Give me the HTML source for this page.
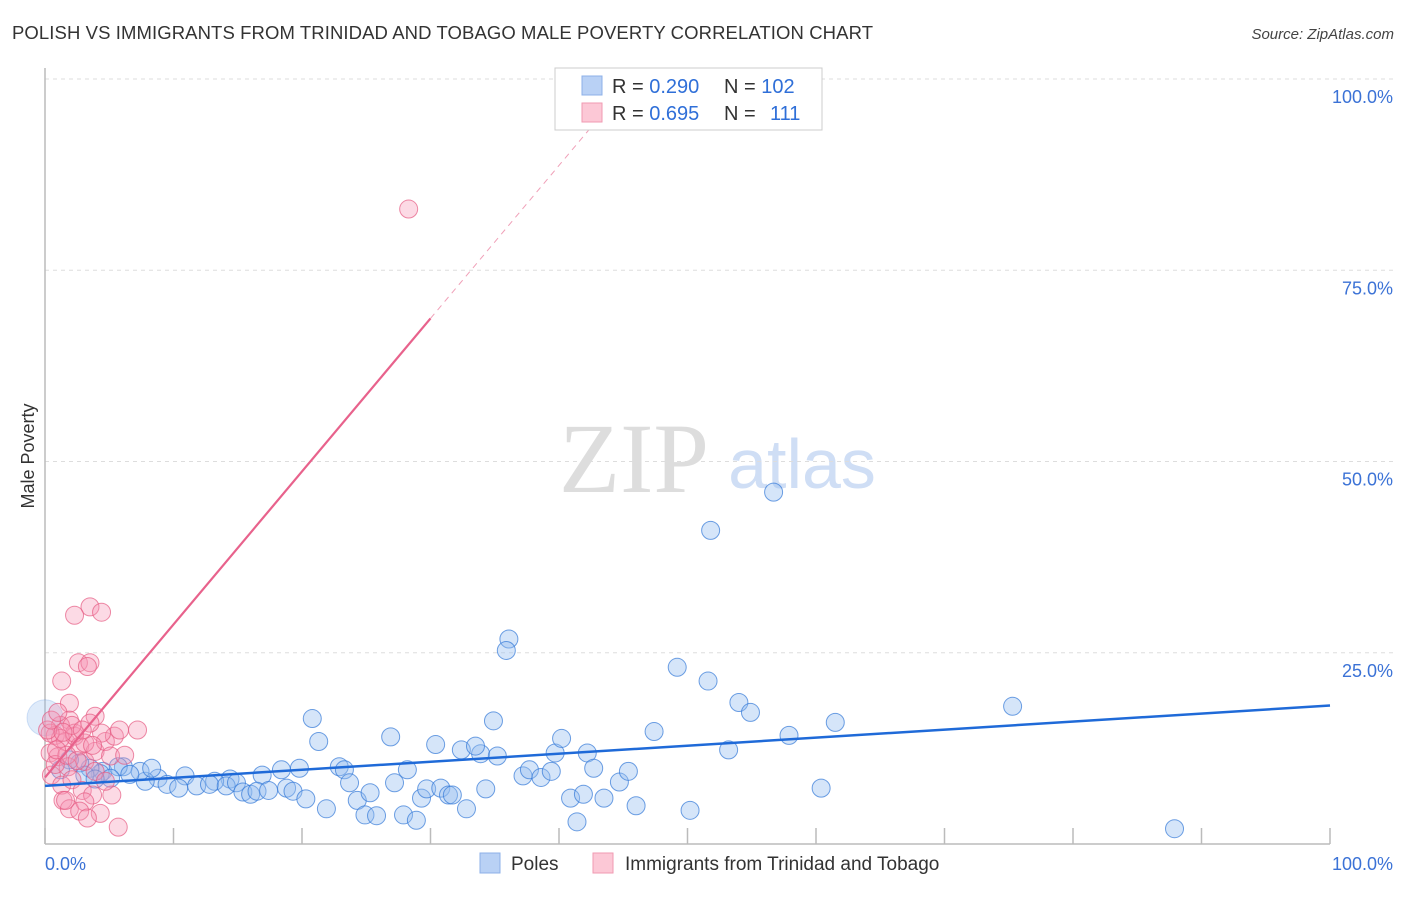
<!DOCTYPE html>
<html><head><meta charset="utf-8"><style>
body{margin:0;background:#fff;font-family:"Liberation Sans",sans-serif;}
</style></head><body>
<svg id="chart" width="1406" height="892" xmlns="http://www.w3.org/2000/svg" font-family="Liberation Sans, sans-serif">
<text x="12" y="39" font-size="18.5" fill="#333" textLength="861">POLISH VS IMMIGRANTS FROM TRINIDAD AND TOBAGO MALE POVERTY CORRELATION CHART</text>
<text x="1394" y="39" font-size="15" fill="#444" font-style="italic" text-anchor="end">Source: ZipAtlas.com</text>
<text transform="translate(34,456) rotate(-90)" font-size="18" fill="#333" text-anchor="middle">Male Poverty</text>
<g>
<text x="634" y="492" font-size="100" fill="#ddd" style="font-family:'Liberation Serif',serif" text-anchor="middle">ZIP</text>
<text x="802" y="488" font-size="70" fill="#cfdef5" text-anchor="middle">atlas</text>
</g>
<g id="grid"></g><g id="ticks"></g><g id="pts"></g><g id="lines"></g>
<g>
<rect x="555" y="68" width="267" height="62" fill="#fff" stroke="#ccc"/>
<rect x="582" y="76" width="20" height="19" fill="#b9d1f5" stroke="#8db0e8"/>
<rect x="582" y="103" width="20" height="19" fill="#fcc8d6" stroke="#f09ab2"/>
<text x="612" y="93" font-size="20" fill="#333">R = <tspan fill="#2f6fd8">0.290</tspan><tspan x="724">N = </tspan><tspan fill="#2f6fd8">102</tspan></text>
<text x="612" y="120" font-size="20" fill="#333">R = <tspan fill="#2f6fd8">0.695</tspan><tspan x="724">N = </tspan><tspan fill="#2f6fd8" x="770">111</tspan></text>
</g>
<g>
<rect x="480" y="853" width="20" height="20" fill="#b9d1f5" stroke="#8db0e8"/>
<text x="511" y="870" font-size="19" fill="#333">Poles</text>
<rect x="593" y="853" width="20" height="20" fill="#fcc8d6" stroke="#f09ab2"/>
<text x="625" y="870" font-size="19" fill="#333">Immigrants from Trinidad and Tobago</text>
</g>
</svg>
<script>
const yTicks=[25,50,75,100];
const yTickLabels=["25.0%","50.0%","75.0%","100.0%"];
const xTickValues=[0,10,20,30,40,50,60,70,80,90,100];
const xTickLabels=["0.0%","100.0%"];
const polesX=[56.7,51.8,36.1,35.9,49.2,51.6,54.0,54.9,75.3,61.5,47.4,57.9,20.8,34.9,21.3,26.9,30.4,32.4,33.9,33.5,35.2,39.7,40.2,42.2,42.7,28.2,22.9,23.3,19.8,18.4,16.9,14.4,13.2,10.9,8.8,7.8,6.1,7.4,4.5,5.7,8.3,9.5,10.4,11.8,12.8,14.1,14.9,15.4,16.0,16.5,17.4,18.8,19.3,20.3,21.9,23.7,24.3,24.9,25.3,25.8,27.2,27.9,28.9,29.3,29.7,30.8,31.4,31.7,32.8,34.3,37.2,37.7,38.6,39.4,40.9,41.4,41.9,43.5,44.7,45.4,46.0,50.2,53.2,60.4,87.9,4.3,3.5,2.7,1.9,3.1,5.1,1.2,6.6,3.9,0.0];
const polesY=[46.0,41.0,26.8,25.3,23.1,21.3,18.5,17.2,18.0,15.9,14.7,14.2,16.4,16.1,13.4,14.0,13.0,12.3,11.8,12.8,11.5,11.9,13.8,11.9,9.9,9.7,10.1,9.7,9.9,9.7,9.0,8.5,8.2,8.9,8.6,8.2,10.1,9.5,9.5,10.1,9.9,7.8,7.3,7.6,7.8,7.6,8.0,6.8,6.5,6.9,7.0,7.3,6.9,5.9,4.6,8.0,5.7,3.8,6.7,3.7,8.0,3.8,3.1,6.0,7.2,7.3,6.4,6.4,4.6,7.2,8.9,9.7,8.7,9.5,6.0,2.9,6.5,6.0,8.1,9.5,5.0,4.4,12.3,7.3,2.0,9.2,9.9,10.6,11.0,9.0,8.6,9.7,9.1,8.5,16.5];
const trinX=[28.3,3.5,4.4,2.3,2.6,3.5,3.3,1.3,1.9,3.9,7.2,1.9,1.2,0.8,1.6,2.3,2.7,0.4,1.0,1.8,3.1,3.9,4.7,5.4,5.1,4.4,3.5,0.5,1.3,2.1,2.9,3.7,1.4,1.9,3.1,5.2,2.7,4.3,3.3,5.7,1.6,1.2,0.4,0.8,0.2,2.3,3.1,3.9,4.7,1.7,2.5,0.9,5.8,6.2,0.5,1.0,2.1,1.4,3.7,2.9];
const trinY=[83.0,31.0,30.3,29.9,23.7,23.7,23.2,21.3,18.4,16.7,14.9,16.2,15.5,14.2,13.4,14.1,12.8,11.9,11.4,10.1,10.8,12.1,13.4,14.1,11.5,14.5,15.8,9.0,7.7,8.4,7.0,6.4,5.7,4.6,5.5,6.4,4.3,4.0,3.4,2.2,5.7,13.8,14.5,10.4,14.9,14.5,13.2,9.5,8.2,11.6,10.9,12.3,14.9,11.6,16.2,17.2,15.5,14.6,12.9,14.9];
const polesFit=[7.6,18.1];
const trinFit=[8.7,68.7];
const X0=45,X1=1330,Y0=844,Y1=79;
const xs=v=>X0+(X1-X0)*v/100, ys=v=>Y0-(Y0-Y1)*v/100;
const NS="http://www.w3.org/2000/svg";
function mk(t,a,p){const e=document.createElementNS(NS,t);for(const k in a)e.setAttribute(k,a[k]);p.appendChild(e);return e;}
const grid=document.getElementById('grid'),tk=document.getElementById('ticks'),pts=document.getElementById('pts'),ln=document.getElementById('lines');
yTicks.forEach((v,i)=>{const g=mk('line',{x1:X0,x2:1394,y1:ys(v),y2:ys(v),stroke:'#ddd','stroke-dasharray':'4,4'},grid);


const t=mk('text',{x:1393,y:ys(v)+24,'font-size':18,fill:'#3b72d6','text-anchor':'end'},tk);t.textContent=yTickLabels[i];

});
const ax=mk('line',{x1:X0,x2:X1,y1:Y0,y2:Y0,stroke:'#bbb','stroke-width':1.5},tk);


const ay=mk('line',{x1:X0,x2:X0,y1:68,y2:Y0,stroke:'#bbb','stroke-width':1.5},tk);


xTickValues.forEach(v=>{const l=mk('line',{x1:xs(v),x2:xs(v),y1:Y0,y2:828,stroke:'#bbb','stroke-width':1.5},tk);

});
const xl0=mk('text',{x:45,y:870,'font-size':18,fill:'#3b72d6'},tk);xl0.textContent=xTickLabels[0];


const xl1=mk('text',{x:1393,y:870,'font-size':18,fill:'#3b72d6','text-anchor':'end'},tk);xl1.textContent=xTickLabels[1];


polesX.forEach((v,i)=>{const big=i==polesX.length-1;const c=mk('circle',{cx:xs(v),cy:ys(polesY[i]),r:big?18:9,fill:big?'rgba(150,190,240,0.3)':'rgba(150,190,240,0.4)',stroke:big?'rgba(50,120,215,0.2)':'rgba(50,120,215,0.7)','stroke-width':1},pts);

});
trinX.forEach((v,i)=>{const c=mk('circle',{cx:xs(v),cy:ys(trinY[i]),r:9,fill:'rgba(245,150,180,0.35)',stroke:'rgba(230,90,130,0.7)','stroke-width':1},pts);

});
const bl=mk('line',{x1:xs(0),y1:ys(polesFit[0]),x2:xs(100),y2:ys(polesFit[1]),stroke:'#1f6ad8','stroke-width':2.5},ln);


const tf=x=>trinFit[0]+(trinFit[1]-trinFit[0])*x/30;
const pl=mk('line',{x1:xs(0),y1:ys(tf(0)),x2:xs(30),y2:ys(tf(30)),stroke:'#e8628c','stroke-width':2.2},ln);


const pd=mk('line',{x1:xs(30),y1:ys(tf(30)),x2:xs(42.5),y2:ys(tf(42.5)),stroke:'#f0a0b8','stroke-width':1,'stroke-dasharray':'6,5'},ln);


</script>
</body></html>
